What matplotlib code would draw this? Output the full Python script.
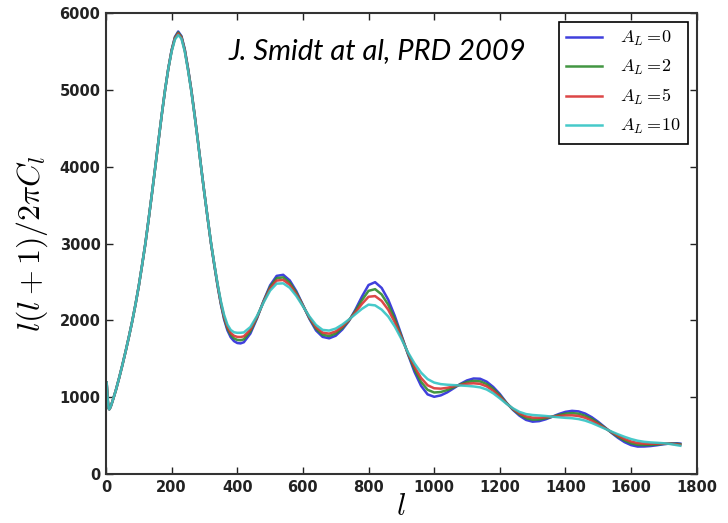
import matplotlib
matplotlib.use("Agg")
import matplotlib.pyplot as plt
import numpy as np

plt.rcParams['mathtext.fontset'] = 'cm'

# multipole grid
ell_low = [2, 4, 6, 8, 10, 12, 15, 20, 25, 30, 40, 50, 60, 70, 80, 90, 100,
           110, 120, 130, 140, 150, 160, 170, 180, 190]
ell_high = [200, 210, 220, 230, 240, 250, 260, 270, 280, 290, 300, 310, 320,
            330, 340, 350, 360, 370, 380, 390, 400, 410, 420, 440, 460, 480,
            500, 520, 540, 560, 580, 600, 620, 640, 660, 680, 700, 720, 740,
            760, 780, 800, 820, 840, 860, 880, 900, 920, 940, 960, 980, 1000,
            1020, 1040, 1060, 1080, 1100, 1120, 1140, 1160, 1180, 1200, 1220,
            1240, 1260, 1280, 1300, 1320, 1340, 1360, 1380, 1400, 1420, 1440,
            1460, 1480, 1500, 1520, 1540, 1560, 1580, 1600, 1620, 1640, 1660,
            1680, 1700, 1720, 1740, 1750]

# shared part (all curves coincide)
dl_low = [1190, 1050, 930, 855, 842, 855, 885, 950, 1020, 1090, 1250, 1420,
          1600, 1790, 1990, 2210, 2450, 2720, 3000, 3320, 3650, 3990, 4340,
          4680, 5000, 5280]

dl_AL0 = [5520, 5690, 5760, 5700, 5530, 5280, 5000, 4680, 4340, 3990, 3650,
          3320, 3000, 2720, 2450, 2210, 2010, 1870, 1780, 1730, 1705, 1700,
          1715, 1828, 2024, 2253, 2455, 2579, 2593, 2520, 2380, 2201, 2018,
          1868, 1785, 1766, 1800, 1880, 1990, 2140, 2310, 2460, 2497, 2422,
          2269, 2058, 1812, 1560, 1329, 1148, 1036, 1005, 1023, 1063, 1117,
          1173, 1218, 1243, 1240, 1202, 1133, 1042, 930, 835, 759, 704, 681,
          688, 712, 746, 781, 809, 822, 815, 787, 740, 679, 609, 537, 471,
          415, 376, 357, 358, 364, 375, 388, 397, 400, 396]

dl_AL2 = [5514, 5680, 5747, 5690, 5521, 5273, 4994, 4676, 4337, 3989, 3650,
          3322, 3003, 2725, 2458, 2222, 2028, 1893, 1809, 1765, 1745, 1741,
          1753, 1854, 2034, 2246, 2435, 2549, 2560, 2491, 2361, 2196, 2028,
          1890, 1812, 1796, 1828, 1900, 1996, 2122, 2262, 2384, 2406, 2337,
          2203, 2017, 1796, 1568, 1362, 1200, 1096, 1061, 1067, 1093, 1129,
          1167, 1197, 1212, 1206, 1171, 1108, 1025, 926, 841, 774, 727, 707,
          710, 725, 746, 768, 786, 793, 785, 759, 718, 664, 603, 542, 485,
          436, 400, 380, 376, 378, 384, 392, 395, 393, 388]

dl_AL5 = [5508, 5669, 5733, 5679, 5512, 5265, 4988, 4671, 4334, 3987, 3650,
          3323, 3006, 2729, 2465, 2234, 2046, 1915, 1837, 1799, 1785, 1783,
          1792, 1879, 2043, 2240, 2414, 2518, 2526, 2462, 2342, 2191, 2037,
          1911, 1840, 1827, 1856, 1919, 2002, 2104, 2214, 2307, 2316, 2253,
          2138, 1975, 1781, 1575, 1396, 1251, 1155, 1116, 1111, 1122, 1141,
          1160, 1175, 1181, 1173, 1141, 1083, 1008, 921, 847, 788, 750, 733,
          732, 738, 746, 755, 762, 764, 755, 732, 695, 648, 598, 547, 499,
          456, 423, 403, 395, 392, 394, 395, 393, 385, 379]

dl_AL10 = [5500, 5655, 5715, 5665, 5500, 5255, 4980, 4665, 4330, 3985, 3650,
           3325, 3010, 2735, 2475, 2250, 2070, 1945, 1875, 1845, 1838, 1838,
           1843, 1913, 2056, 2231, 2387, 2478, 2482, 2424, 2317, 2184, 2050,
           1940, 1876, 1867, 1893, 1945, 2010, 2080, 2150, 2205, 2195, 2140,
           2050, 1920, 1760, 1585, 1440, 1320, 1235, 1190, 1170, 1162, 1157,
           1152, 1147, 1140, 1128, 1100, 1050, 985, 915, 855, 808, 780, 768,
           762, 755, 746, 738, 731, 726, 715, 695, 665, 628, 590, 553, 517,
           484, 455, 433, 419, 411, 406, 400, 390, 375, 368]

labels = [r'$A_L =\!0$', r'$A_L =\!2$', r'$A_L =\!5$', r'$A_L =\!10$']
colors = ['#2b2bd9', '#2e8b2e', '#d93333', '#33c4c4']
series = [dl_AL0, dl_AL2, dl_AL5, dl_AL10]

fig = plt.figure(figsize=(7.28, 5.23), dpi=100)
ax = fig.add_axes([0.1456, 0.0937, 0.957 - 0.1456, 0.975 - 0.0937])

ell = ell_low + ell_high
for vals, c, lab in zip(series, colors, labels):
    ax.plot(ell, dl_low + vals, color=c, lw=1.8, label=lab, alpha=0.9)

ax.set_xlim(0, 1800)
ax.set_ylim(0, 6000)
ax.set_xticks(np.arange(0, 1801, 200))
ax.set_yticks(np.arange(0, 6001, 1000))
ax.tick_params(direction='in', top=True, right=True, length=5, width=1,
               labelsize=10.5, colors='#222222', pad=4)
for lab in ax.get_xticklabels() + ax.get_yticklabels():
    lab.set_fontweight('bold')
for sp in ax.spines.values():
    sp.set_color('#333333')
    sp.set_linewidth(1.5)

ax.set_ylabel(r'$l(l+1)/2\pi C_l$', fontsize=23)
ax.yaxis.set_label_coords(-0.095, 0.5)
ax.set_xlabel(r'$l$', fontsize=22)
ax.xaxis.set_label_coords(0.5, -0.04)

ax.text(0.207, 0.9, 'J. Smidt at al, PRD 2009', transform=ax.transAxes,
        fontsize=21, fontstyle='italic', family='Lato', color='black')

leg = ax.legend(loc='upper right', fontsize=13, fancybox=False,
                edgecolor='black', framealpha=1, handlelength=2.0,
                labelspacing=0.55, borderaxespad=0.5, handletextpad=1.0)
leg.get_frame().set_linewidth(1.2)

fig.savefig('out.png', dpi=100)
